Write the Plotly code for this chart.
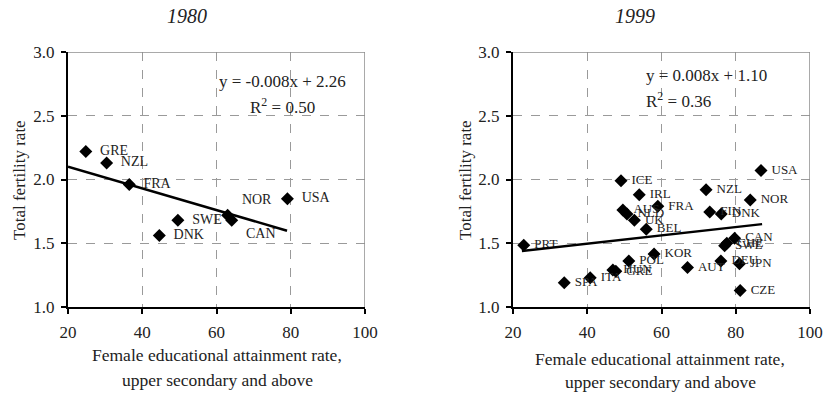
import plotly.graph_objects as go

# ---- data: 1980 ----
c80 = ["GRE", "NZL", "FRA", "DNK", "SWE", "NOR", "CAN", "USA"]
x80 = [24.8, 30.4, 36.5, 44.6, 49.6, 63.0, 64.1, 79.1]
y80 = [2.22, 2.13, 1.96, 1.56, 1.68, 1.72, 1.68, 1.85]
trend80 = {"slope": -0.0085, "intercept": 2.27, "x": [20, 79]}
eq80 = ["y = -0.008x + 2.26", "R<sup>2</sup> = 0.50"]

# ---- data: 1999 ----
c99 = ["PRT", "SPA", "ITA", "HUN", "GRE", "ICE", "AUS", "NLD", "POL", "UK", "IRL",
       "BEL", "KOR", "FRA", "AUT", "NZL", "FIN", "DEU", "DNK", "SWE", "CHE", "CAN",
       "JPN", "CZE", "NOR", "USA"]
x99 = [22.9, 33.8, 40.8, 46.9, 47.7, 49.1, 49.6, 50.7, 51.2, 52.7, 54.0,
       55.9, 58.0, 59.0, 67.0, 72.0, 73.0, 76.0, 76.1, 77.0, 77.6, 79.7,
       81.0, 81.2, 83.9, 86.8]
y99 = [1.485, 1.19, 1.23, 1.29, 1.28, 1.99, 1.76, 1.73, 1.36, 1.68, 1.88,
       1.61, 1.415, 1.79, 1.31, 1.92, 1.745, 1.36, 1.73, 1.48, 1.50, 1.54,
       1.34, 1.13, 1.84, 2.07]
trend99 = {"slope": 0.00325, "intercept": 1.367, "x": [22.4, 87.1]}
eq99 = ["y = 0.008x + 1.10", "R<sup>2</sup> = 0.36"]

titles = ["1980", "1999"]
xtitle = ["Female educational attainment rate,", "upper secondary and above"]
ytitle = "Total fertility rate"
xticks = [20, 40, 60, 80, 100]
yticks = [1.0, 1.5, 2.0, 2.5, 3.0]

FONT = "Liberation Serif"
TXT = "#222222"
GRID = "#9a9a9a"
NB = "\u00a0"

pos80 = {"NOR": "top right", "CAN": "bottom right"}

fig = go.Figure()

fig.add_trace(go.Scatter(
    x=x80, y=y80, mode="markers+text", text=[NB * 2 + c for c in c80],
    textposition=[pos80.get(c, "middle right") for c in c80],
    textfont=dict(family=FONT, size=14, color=TXT),
    marker=dict(symbol="diamond", size=10, color="black"),
    xaxis="x", yaxis="y", showlegend=False, cliponaxis=False))
fig.add_trace(go.Scatter(
    x=trend80["x"], y=[trend80["slope"] * v + trend80["intercept"] for v in trend80["x"]],
    mode="lines", line=dict(color="black", width=2.5),
    xaxis="x", yaxis="y", showlegend=False))

fig.add_trace(go.Scatter(
    x=x99, y=y99, mode="markers+text", text=[NB + c for c in c99], textposition="middle right",
    textfont=dict(family=FONT, size=13, color=TXT),
    marker=dict(symbol="diamond", size=10, color="black"),
    xaxis="x2", yaxis="y2", showlegend=False, cliponaxis=False))
fig.add_trace(go.Scatter(
    x=trend99["x"], y=[trend99["slope"] * v + trend99["intercept"] for v in trend99["x"]],
    mode="lines", line=dict(color="black", width=2.5),
    xaxis="x2", yaxis="y2", showlegend=False))

xdom = [[68 / 824, 365 / 824], [513 / 824, 810 / 824]]
ydom = [(394 - 307) / 394, (394 - 52) / 394]

def xa(dom, anchor):
    return dict(domain=dom, anchor=anchor, range=[20, 100], tickvals=xticks,
                showgrid=True, gridcolor=GRID, griddash="dash", gridwidth=1.3,
                zeroline=False, showline=True, linecolor="black", linewidth=2,
                ticks="outside", ticklen=5, tickcolor="black", tickwidth=1.5,
                ticklabelstandoff=4, automargin=False,
                tickfont=dict(family=FONT, size=17, color=TXT))

def ya(anchor):
    return dict(domain=ydom, anchor=anchor, range=[1.0, 3.0], tickvals=yticks,
                tickformat=".1f",
                showgrid=True, gridcolor=GRID, griddash="dash", gridwidth=1.3,
                zeroline=False, showline=True, linecolor="black", linewidth=2,
                ticks="outside", ticklen=5, tickcolor="black", tickwidth=1.5,
                ticklabelstandoff=3, automargin=False,
                tickfont=dict(family=FONT, size=17, color=TXT))

fig.update_layout(
    width=824, height=394, margin=dict(l=0, r=0, t=0, b=0, pad=0, autoexpand=False),
    paper_bgcolor="white", plot_bgcolor="white",
    xaxis=xa(xdom[0], "y"), yaxis=ya("x"),
    xaxis2=xa(xdom[1], "y2"), yaxis2=ya("x2"),
)

# grey top/right frame
for xr, yr in (("x", "y"), ("x2", "y2")):
    fig.add_shape(type="line", xref=xr, yref=yr, x0=20, x1=100, y0=3.0, y1=3.0,
                  line=dict(color="#8c8c8c", width=1.5))
    fig.add_shape(type="line", xref=xr, yref=yr, x0=100, x1=100, y0=1.0, y1=3.0,
                  line=dict(color="#8c8c8c", width=1.5))

ann = []
for t, cx in zip(titles, [187, 635]):
    ann.append(dict(text="<i>" + t + "</i>", x=cx / 824, y=1 - 16 / 394, xref="paper", yref="paper",
                    xanchor="center", yanchor="middle",
                    showarrow=False, font=dict(family=FONT, size=20, color=TXT)))
for cx, ys in ((217, (355, 380)), (660, (359, 382))):
    for line, yy in zip(xtitle, ys):
        ann.append(dict(text=line, x=cx / 824, y=1 - yy / 394, xref="paper", yref="paper",
                        xanchor="center", yanchor="middle",
                        showarrow=False, font=dict(family=FONT, size=17.5, color=TXT)))
for cx in (19, 465):
    ann.append(dict(text=ytitle, x=cx / 824, y=1 - 180 / 394, xref="paper", yref="paper",
                    xanchor="center", yanchor="middle",
                    textangle=-90, showarrow=False, font=dict(family=FONT, size=17, color=TXT)))
ann.append(dict(text=eq80[0], x=77.7, y=2.765, xref="x", yref="y", showarrow=False,
                xanchor="center", font=dict(family=FONT, size=17, color=TXT)))
ann.append(dict(text=eq80[1], x=77.7, y=2.576, xref="x", yref="y", showarrow=False,
                xanchor="center", font=dict(family=FONT, size=17, color=TXT)))
ann.append(dict(text=eq99[0], x=55.3, y=2.813, xref="x2", yref="y2", showarrow=False,
                xanchor="left", font=dict(family=FONT, size=17, color=TXT)))
ann.append(dict(text=eq99[1], x=55.3, y=2.626, xref="x2", yref="y2", showarrow=False,
                xanchor="left", font=dict(family=FONT, size=17, color=TXT)))
fig.update_layout(annotations=ann)

fig.write_html("out.html")
